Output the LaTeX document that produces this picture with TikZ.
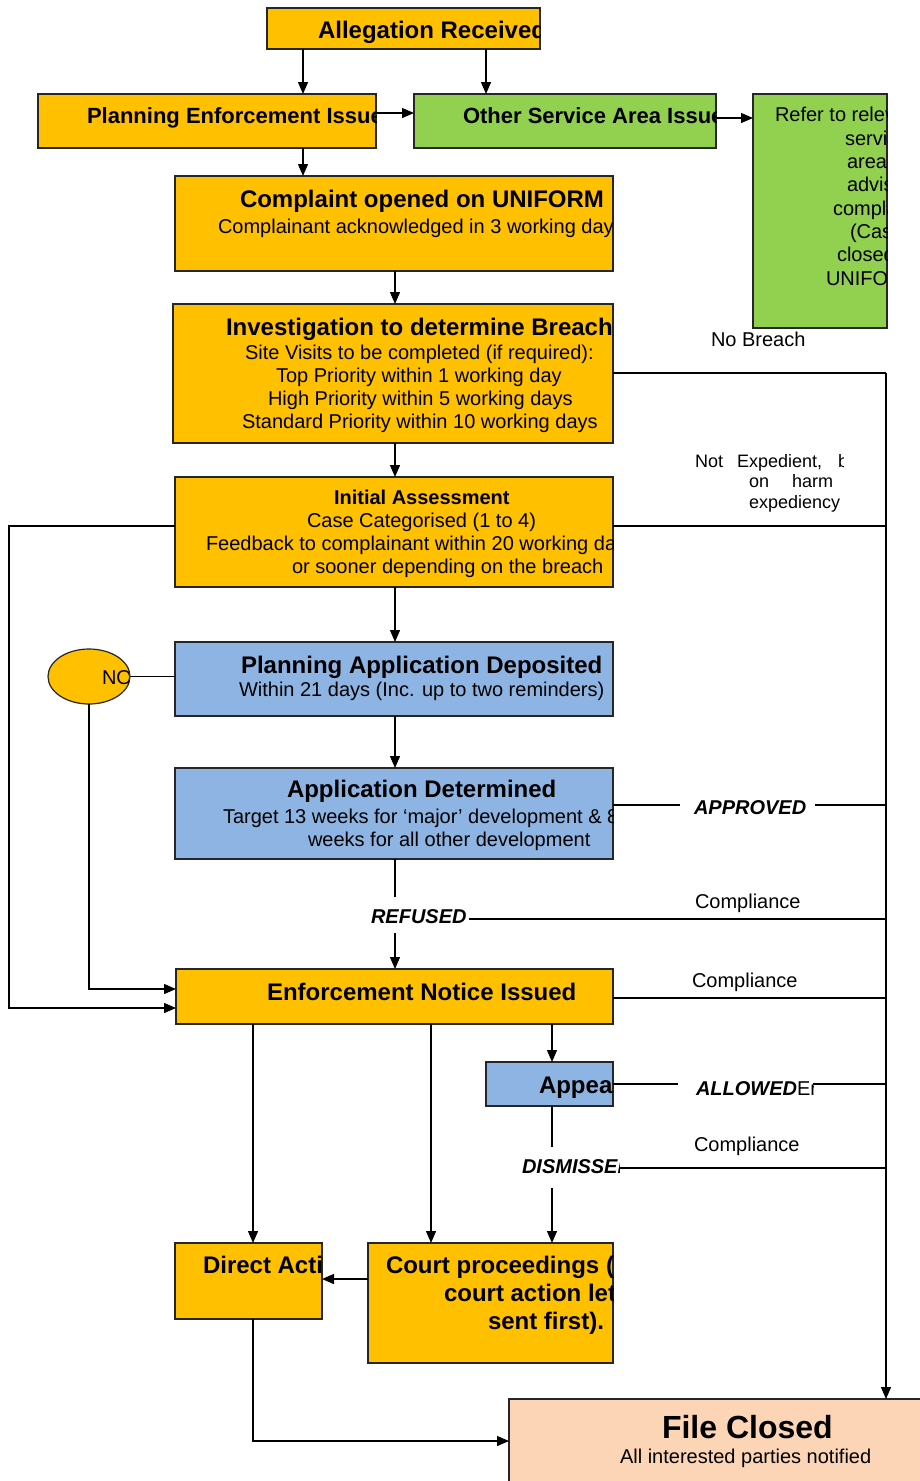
\documentclass[tikz,border=0pt]{standalone}
\usepackage{fontspec}
\setmainfont{Liberation Sans}
\usetikzlibrary{arrows.meta,shapes.geometric,calc}
\definecolor{org}{HTML}{FFC000}
\definecolor{grn}{HTML}{92D050}
\definecolor{blu}{HTML}{8DB4E2}
\definecolor{pch}{HTML}{FBD5B5}
\begin{document}
\begin{tikzpicture}[x=1pt,y=-1pt,
  box/.style={draw=black!85, line width=1.2pt, inner sep=0pt, outer sep=0pt, anchor=north west},
  ln/.style={line width=1.3pt},
  arr/.style={line width=1.3pt, -{Triangle[length=12pt,width=10pt]}},
  tl/.style={anchor=base west, inner sep=0pt, outer sep=0pt},
  r20/.style={tl, font=\fontsize{20}{23}\selectfont},
  r18/.style={tl, font=\fontsize{18}{20}\selectfont},
  b20/.style={tl, font=\fontsize{20}{23}\selectfont\bfseries},
  b22/.style={tl, font=\fontsize{22}{26}\selectfont\bfseries},
  b24/.style={tl, font=\fontsize{24}{28}\selectfont\bfseries},
  b32/.style={tl, font=\fontsize{32}{36}\selectfont\bfseries},
  bi20/.style={tl, font=\fontsize{20}{23}\selectfont\bfseries\itshape},
]
\clip (0,0) rectangle (920,1481);
\fill[white] (0,0) rectangle (920,1481);

% ---------- boxes ----------
\node[box, fill=org, minimum width=273pt, minimum height=41pt] (A) at (267,8) {};
\node[box, fill=org, minimum width=338pt, minimum height=54pt] (B) at (38,94) {};
\node[box, fill=grn, minimum width=302pt, minimum height=54pt] (C) at (414,94) {};
\node[box, fill=grn, minimum width=134pt, minimum height=234pt] (D) at (753,94) {};
\node[box, fill=org, minimum width=438pt, minimum height=95pt] (E) at (175,176) {};
\node[box, fill=org, minimum width=440pt, minimum height=139pt] (F) at (173,304) {};
\node[box, fill=org, minimum width=438pt, minimum height=110pt] (G) at (175,477) {};
\node[box, fill=blu, minimum width=438pt, minimum height=74pt] (H) at (175,642) {};
\node[box, fill=blu, minimum width=438pt, minimum height=91pt] (J) at (175,768) {};
\node[box, fill=org, minimum width=437pt, minimum height=55pt] (K) at (176,969) {};
\node[box, fill=blu, minimum width=127pt, minimum height=44pt] (P) at (486,1062) {};
\node[box, fill=org, minimum width=147pt, minimum height=76pt] (DA) at (175,1243) {};
\node[box, fill=org, minimum width=245pt, minimum height=120pt] (CP) at (368,1243) {};
\node[box, fill=pch, minimum width=430pt, minimum height=110pt] (FC) at (509,1399) {};
\node[draw=black!85, line width=1.2pt, fill=org, ellipse, inner sep=0pt, outer sep=0pt,
      minimum width=82pt, minimum height=55pt] (NO) at (89,676.5) {};

% ---------- clipped texts ----------
\begin{scope}\clip (A.north west) rectangle (A.south east);
  \node[b24] (tA) at (318,38) {Allegation Received};
\end{scope}
\begin{scope}\clip (B.north west) rectangle (B.south east);
  \node[b22] (tB) at (87,123) {Planning Enforcement Issue};
\end{scope}
\begin{scope}\clip (C.north west) rectangle (C.south east);
  \node[b22] (tC) at (463,123) {Other Service Area Issue};
\end{scope}
\begin{scope}\clip (D.north west) rectangle (D.south east);
  \node[r20] (tD1) at (775,121) {Refer to relevant};
  \node[r20] (tD2) at (845,145) {service};
  \node[r20] (tD3) at (847,168) {area,};
  \node[r20] (tD4) at (847,191) {advise};
  \node[r20] (tD5) at (833,215) {complainant};
  \node[r20] (tD6) at (850,238) {(Case};
  \node[r20] (tD7) at (837,261) {closed on};
  \node[r20] (tD8) at (826,285) {UNIFORM)};
\end{scope}
\begin{scope}\clip (E.north west) rectangle (E.south east);
  \node[b24] (tE1) at (240,207) {Complaint opened on UNIFORM};
  \node[r20] (tE2) at (218,233) {Complainant acknowledged in 3 working days};
\end{scope}
\begin{scope}\clip (F.north west) rectangle (F.south east);
  \node[b24] (tF1) at (226,335) {Investigation to determine Breach};
  \node[r20] (tF2) at (245,359) {Site Visits to be completed (if required):};
  \node[r20] (tF3) at (276,382) {Top Priority within 1 working day};
  \node[r20] (tF4) at (268,405) {High Priority within 5 working days};
  \node[r20] (tF5) at (242,428) {Standard Priority within 10 working days};
\end{scope}
\begin{scope}\clip (G.north west) rectangle (G.south east);
  \node[b20] (tG1) at (334,504) {Initial Assessment};
  \node[r20] (tG2) at (307,527) {Case Categorised (1 to 4)};
  \node[r20] (tG3) at (206,550) {Feedback to complainant within 20 working days};
  \node[r20] (tG4) at (292,573) {or sooner depending on the breach};
\end{scope}
\begin{scope}\clip (H.north west) rectangle (H.south east);
  \node[b24] (tH1) at (241,673) {Planning Application Deposited};
  \node[r20] (tH2) at (239,696) {Within 21 days (Inc. up to two reminders)};
\end{scope}
\begin{scope}\clip (J.north west) rectangle (J.south east);
  \node[b24] (tJ1) at (287,797) {Application Determined};
  \node[r20] (tJ2) at (223,823) {Target 13 weeks for ‘major’ development \& 8};
  \node[r20] (tJ3) at (308,846) {weeks for all other development};
\end{scope}
\begin{scope}\clip (K.north west) rectangle (K.south east);
  \node[b24] (tK) at (267,1000) {Enforcement Notice Issued};
\end{scope}
\begin{scope}\clip (P.north west) rectangle (P.south east);
  \node[b24] (tP) at (539,1093) {Appeal};
\end{scope}
\begin{scope}\clip (DA.north west) rectangle (DA.south east);
  \node[b24] (tDA) at (203,1273) {Direct Action};
\end{scope}
\begin{scope}\clip (CP.north west) rectangle (CP.south east);
  \node[b24] (tCP1) at (386,1273) {Court proceedings (if no};
  \node[b24] (tCP2) at (444,1301) {court action letter};
  \node[b24] (tCP3) at (488,1329) {sent first).};
\end{scope}
\node[b32] (tFC1) at (662,1438) {File Closed};
\node[r20] (tFC2) at (620,1463) {All interested parties notified};
\begin{scope}\clip (89,676.5) ellipse [x radius=40pt, y radius=27pt];
  \node[r20] (tNO) at (102,684) {NO};
\end{scope}

% ---------- labels ----------
\node[r20] (nb) at (711,346) {No Breach};
\begin{scope}\clip (690,445) rectangle (843,515);
  \node[r18] (ne1) at (695,467) {Not};
  \node[r18] (ne2) at (737,467) {Expedient,};
  \node[r18] (ne3) at (838,467) {based};
  \node[r18] (ne4) at (749,487) {on};
  \node[r18] (ne5) at (792,487) {harm};
  \node[r18] (ne6) at (749,508) {expediency};
\end{scope}
\node[bi20] (lap) at (694,814) {APPROVED};
\node[bi20] (lrf) at (371,923) {REFUSED};
\node[r20] (lc1) at (695,908) {Compliance};
\node[r20] (lc2) at (692,987) {Compliance};
\node[r20] (lc3) at (694,1151) {Compliance};
\begin{scope}\clip (690,1060) rectangle (813,1105);
  \node[bi20] (lal) at (696,1095) {ALLOWED\normalfont\fontsize{20}{23}\selectfont En};
\end{scope}
\begin{scope}\clip (500,1150) rectangle (619,1185);
  \node[bi20] (lds) at (522,1173) {DISMISSED};
\end{scope}

% ---------- coordinates ----------
\coordinate (X1) at (303,0);
\coordinate (X2) at (486,0);
\coordinate (X3) at (395,0);
\coordinate (X4) at (552,0);
\coordinate (X5) at (253,0);
\coordinate (X6) at (431,0);
\coordinate (Y1) at (0,113);
\coordinate (Y2) at (0,118);
\coordinate (Y3) at (0,1279);
\coordinate (Y4) at (0,1441);
\coordinate (bus) at (886,373);
\coordinate (L1) at (9,0);
\coordinate (g1) at ([yshift=6pt]G.east);
\coordinate (g2) at ([yshift=6pt]G.west);
\coordinate (k1) at ([yshift=7.5pt]K.west);
\coordinate (k2) at ([yshift=-11.5pt]K.west);
\coordinate (k3) at ([yshift=-1.5pt]K.east);
\coordinate (rf1) at (395,897);
\coordinate (rf2) at (395,933);
\coordinate (rf3) at (469,919);
\coordinate (ap1) at (680,805);
\coordinate (ap2) at (815,805);
\coordinate (al1) at (678,1084);
\coordinate (al2) at (813,1084);
\coordinate (ds0) at (552,1147);
\coordinate (ds1) at (619,1168);
\coordinate (ds2) at (552,1188);

% ---------- connectors ----------
\draw[arr] (A.south -| X1) -- (B.north -| X1);
\draw[arr] (A.south -| X2) -- (C.north -| X2);
\draw[arr] (B.east |- Y1) -- (C.west |- Y1);
\draw[arr] (C.east |- Y2) -- (D.west |- Y2);
\draw[arr] (B.south -| X1) -- (E.north -| X1);
\draw[arr] (E.south -| X3) -- (F.north -| X3);
\draw[arr] (F.south -| X3) -- (G.north -| X3);
\draw[arr] (G.south -| X3) -- (H.north -| X3);
\draw[arr] (H.south -| X3) -- (J.north -| X3);
\draw[ln] (J.south -| X3) -- (rf1);
\draw[arr] (rf2) -- (K.north -| X3);

\draw[arr] (bus) -- (FC.north -| bus);
\draw[ln] (F.east |- bus) -- (bus);
\draw[ln] (g1) -- (g1 -| bus);
\draw[ln] (J.east |- ap1) -- (ap1);
\draw[ln] (ap2) -- (ap2 -| bus);
\draw[ln] (rf3) -- (rf3 -| bus);
\draw[ln] (k3) -- (k3 -| bus);
\draw[ln] (P.east |- al1) -- (al1);
\draw[ln] (al2) -- (al2 -| bus);
\draw[ln] (ds1) -- (ds1 -| bus);

\draw[ln] (NO.east) -- (H.west |- NO.east);
\draw[arr] (NO.south) |- (k1);
\draw[arr] (g2) -| (L1 |- k2) -- (k2);

\draw[arr] (K.south -| X4) -- (P.north -| X4);
\draw[ln] (P.south -| X4) -- (ds0);
\draw[arr] (ds2) -- (CP.north -| X4);
\draw[arr] (K.south -| X5) -- (DA.north -| X5);
\draw[arr] (K.south -| X6) -- (CP.north -| X6);
\draw[arr] (CP.west |- Y3) -- (DA.east |- Y3);
\draw[arr] (DA.south -| X5) |- (FC.west |- Y4);
\end{tikzpicture}
\end{document}
